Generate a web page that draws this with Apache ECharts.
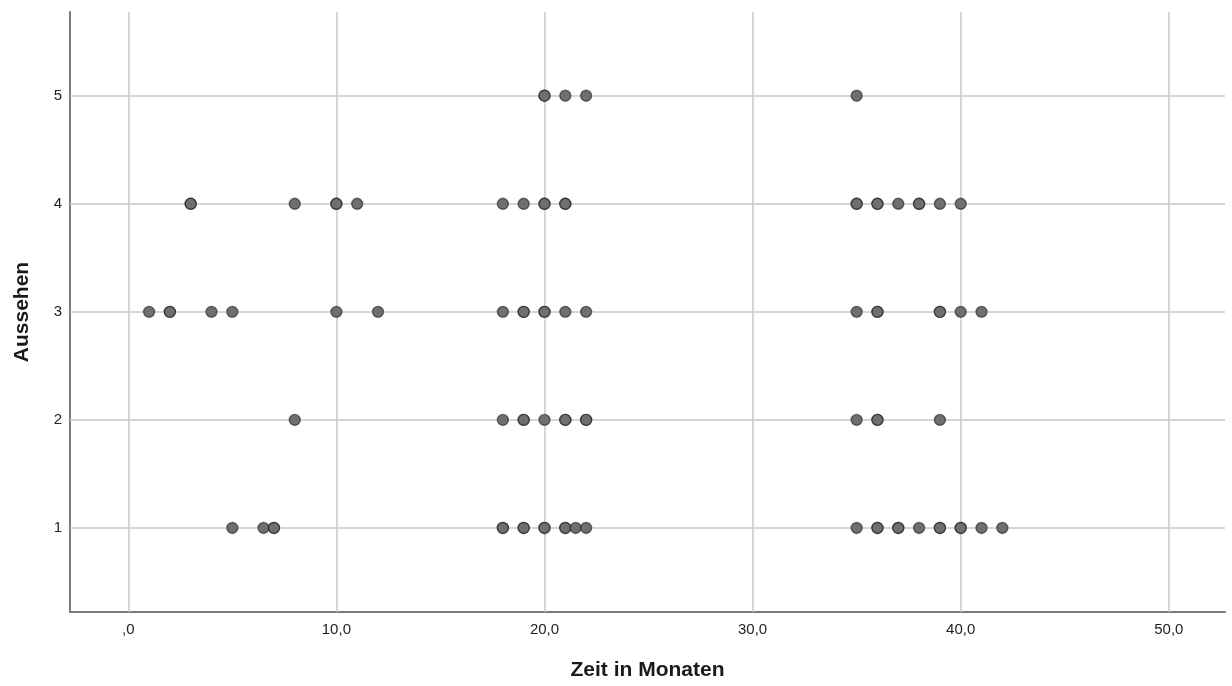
<!DOCTYPE html>
<html>
<head>
<meta charset="utf-8">
<script src="https://cdn.jsdelivr.net/npm/echarts@6/dist/echarts.min.js"></script>
<style>html,body{margin:0;padding:0;background:#fff}#c{width:1232px;height:686px}</style>
</head>
<body>
<div id="c"></div>
<script>
// Zeit in Monaten per Aussehen level (duplicates = overlapping cases)
const level1 = [5, 6.5, 7, 7, 18, 18, 19, 19, 20, 20, 21, 21, 21.5, 22, 35, 36, 36, 37, 37, 38, 39, 39, 40, 40, 41, 42];
const level2 = [8, 18, 19, 19, 20, 21, 21, 22, 22, 35, 36, 36, 39];
const level3 = [1, 2, 2, 4, 5, 10, 12, 18, 19, 19, 20, 20, 21, 22, 35, 36, 36, 39, 39, 40, 41];
const level4 = [3, 3, 8, 10, 10, 11, 18, 19, 20, 20, 21, 21, 35, 35, 36, 36, 37, 38, 38, 39, 40];
const level5 = [20, 20, 21, 22, 35];
const levels = [1, 2, 3, 4, 5];
const xTicks = [0, 10, 20, 30, 40, 50];
const yTicks = [1, 2, 3, 4, 5];

const groups = [level1, level2, level3, level4, level5];
const points = [];
groups.forEach((arr, i) => arr.forEach(x => points.push([x, levels[i]])));

const gridColor = '#c8c8c8';
const chart = echarts.init(document.getElementById('c'));
chart.setOption({
  animation: false,
  backgroundColor: '#ffffff',
  grid: { left: 70, right: 7, top: 12, bottom: 74, containLabel: false },
  xAxis: {
    type: 'value', min: -2.8, max: 52.7,
    name: 'Zeit in Monaten', nameLocation: 'middle', nameGap: 48,
    nameTextStyle: { fontFamily: 'Liberation Sans', fontSize: 21, fontWeight: 'bold', color: '#1a1a1a' },
    axisLine: { show: true, onZero: false, lineStyle: { color: '#7a7a7a', width: 2 } },
    axisTick: { show: false },
    splitLine: { show: false },
    axisLabel: {
      showMinLabel: false, showMaxLabel: false, margin: 10,
      fontFamily: 'Liberation Sans', fontSize: 15, color: '#222',
      formatter: v => xTicks.indexOf(v) < 0 ? '' : (v === 0 ? ',0' : v.toFixed(1).replace('.', ','))
    }
  },
  yAxis: {
    type: 'value', min: 0.222, max: 5.775,
    name: 'Aussehen', nameLocation: 'middle', nameGap: 37, nameRotate: 90,
    nameTextStyle: { fontFamily: 'Liberation Sans', fontSize: 21, fontWeight: 'bold', color: '#1a1a1a' },
    axisLine: { show: true, onZero: false, lineStyle: { color: '#7a7a7a', width: 2 } },
    axisTick: { show: false },
    splitLine: { show: false },
    axisLabel: {
      showMinLabel: false, showMaxLabel: false, margin: 8,
      fontFamily: 'Liberation Sans', fontSize: 15, color: '#222',
      formatter: v => yTicks.indexOf(v) < 0 ? '' : String(v)
    }
  },
  series: [
    {
      type: 'scatter', data: [], silent: true, z: 1,
      markLine: {
        silent: true, symbol: 'none', label: { show: false }, z: 1,
        lineStyle: { color: gridColor, width: 1.5, type: 'solid' },
        emphasis: { disabled: true },
        data: xTicks.map(v => ({ xAxis: v })).concat(yTicks.map(v => ({ yAxis: v })))
      }
    },
    {
      type: 'scatter', data: points, symbol: 'circle', symbolSize: 11,
      itemStyle: { color: '#6f6f6f', borderColor: 'rgba(20,20,20,0.55)', borderWidth: 1.4, opacity: 1 },
      z: 5
    }
  ]
});
</script>
</body>
</html>
